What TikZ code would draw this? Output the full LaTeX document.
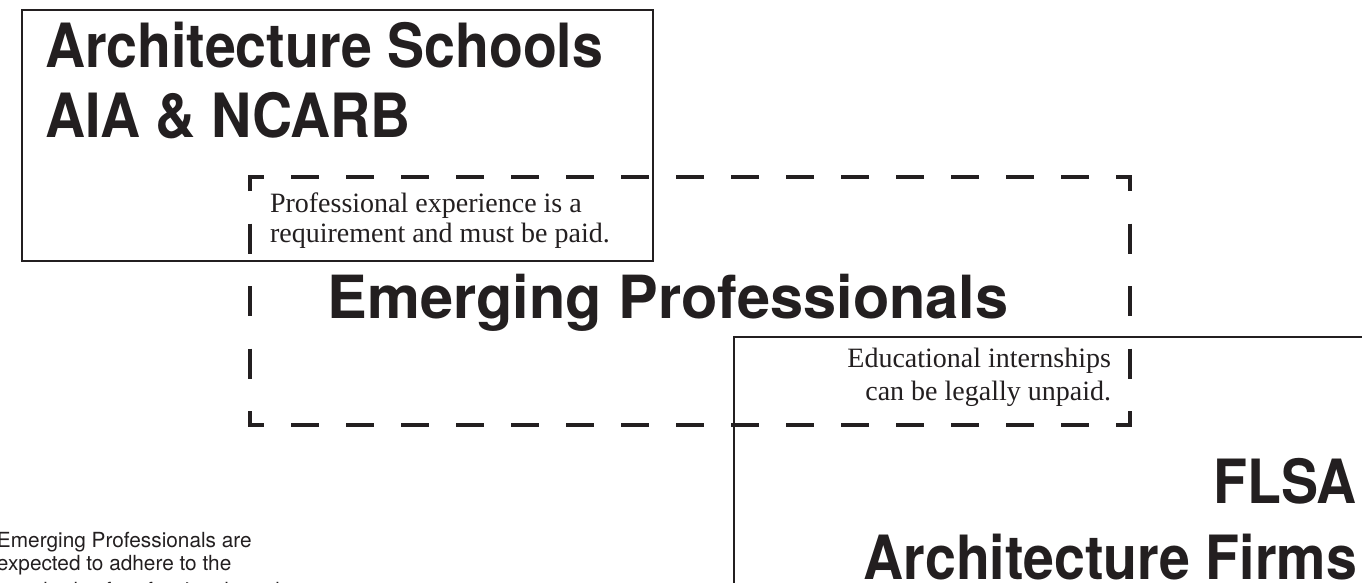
\documentclass[tikz,border=0pt]{standalone}
\usepackage{fontspec}
\setmainfont{Liberation Serif}
\newfontfamily\heros{TeX Gyre Heros}
\newfontfamily\heroscond[FakeStretch=0.91]{TeX Gyre Heros}
\definecolor{ink}{HTML}{231F20}

\begin{document}
\begin{tikzpicture}[x=1pt,y=-1pt,
  every node/.style={inner sep=0pt,outer sep=0pt,text=ink},
  frame/.style={draw=ink,line width=2.4pt},
  dashfrag/.style={draw=ink,line width=4.6pt,line cap=butt,miter limit=10},
  bigcond/.style={font=\heroscond\bfseries\fontsize{61}{70}\selectfont},
  bigwide/.style={font=\heros\bfseries\fontsize{59.5}{66}\selectfont},
  note/.style={font=\fontsize{28}{30}\selectfont},
  sidenote/.style={font=\heros\fontsize{20.8}{23}\selectfont}]

\useasboundingbox (0,0) rectangle (1362,582);
\clip (0,0) rectangle (1362,582);
\fill[white] (0,0) rectangle (1362,582);

% outer frames
\draw[frame] (22,10) rectangle (653,261);
\draw[frame] (734,337) rectangle (1420,700);

% dashed frame with L-shaped corners
\def\dL{250}\def\dR{1130}\def\dT{177}\def\dB{425}
\path[dashfrag] (\dL,\dT+14) -- (\dL,\dT) -- (\dL+14,\dT);
\path[dashfrag] (\dR-14,\dT) -- (\dR,\dT) -- (\dR,\dT+14);
\path[dashfrag] (\dL,\dB-14) -- (\dL,\dB) -- (\dL+14,\dB);
\path[dashfrag] (\dR-14,\dB) -- (\dR,\dB) -- (\dR,\dB-14);
\foreach \k in {0,...,14}{
  \pgfmathsetmacro{\xs}{\dL+14+27+\k*55}
  \path[dashfrag] (\xs,\dT) -- (\xs+28,\dT);
  \path[dashfrag] (\xs,\dB) -- (\xs+28,\dB);
}
\foreach \k in {0,1,2}{
  \pgfmathsetmacro{\ys}{\dT+14+32.5+\k*62.5}
  \path[dashfrag] (\dL,\ys) -- (\dL,\ys+30);
  \path[dashfrag] (\dR,\ys) -- (\dR,\ys+30);
}

% headings
\node[bigcond,anchor=base west] (schools) at (45,67) {Architecture Schools};
\node[bigcond,anchor=base west] (aia) at (45,137) {AIA \& NCARB};
\node[bigwide,anchor=base] (ep) at (668,318) {Emerging Professionals};
\node[bigcond,anchor=base east] (flsa) at (1357,503) {FLSA};
\node[bigcond,anchor=base east] (firms) at (1357,579) {Architecture Firms};

% notes in the dashed frame
\node[note,anchor=base west] (paidA) at (270,212) {Professional experience is a};
\node[note,anchor=base west] (paidB) at (270,242) {requirement and must be paid.};
\node[note,anchor=base east] (unpaidA) at (1111,367) {Educational internships};
\node[note,anchor=base east] (unpaidB) at (1111,400) {can be legally unpaid.};

% side remark
\node[sidenote,anchor=base west] (sideA) at (-3,547) {Emerging Professionals are};
\node[sidenote,anchor=base west] (sideB) at (-3,570) {expected to adhere to the};
\node[sidenote,anchor=base west] (sideC) at (-3,597) {standards of professional conduct};
\end{tikzpicture}
\end{document}
